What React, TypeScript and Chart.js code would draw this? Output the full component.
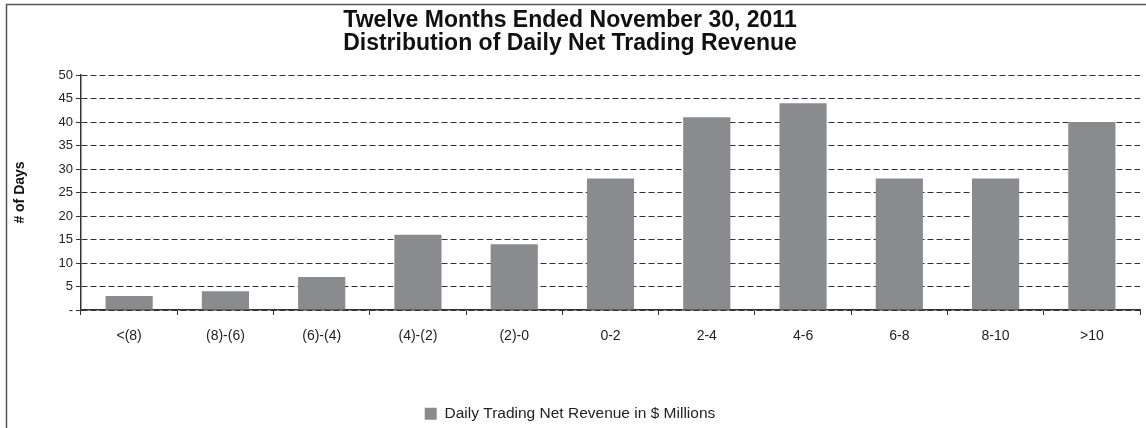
import React, { useEffect, useRef } from "react";
import { Chart, registerables } from "chart.js";

Chart.register(...registerables);

const categories = ["<(8)", "(8)-(6)", "(6)-(4)", "(4)-(2)", "(2)-0", "0-2", "2-4", "4-6", "6-8", "8-10", ">10"];
const days = [3, 4, 7, 16, 14, 28, 41, 44, 28, 28, 40];
const titleLines = ["Twelve Months Ended November 30, 2011", "Distribution of Daily Net Trading Revenue"];
const seriesLabel = "Daily Trading Net Revenue in $ Millions";
const yAxisTitle = "# of Days";

const FONT = "'Liberation Sans', Arial, Helvetica, sans-serif";

const frame = {
  id: "frame",
  beforeDraw(chart: any) {
    const ctx = chart.ctx;
    ctx.save();
    ctx.fillStyle = "#ffffff";
    ctx.fillRect(0, 0, chart.width, chart.height);
    ctx.strokeStyle = "#555555";
    ctx.lineWidth = 1.5;
    ctx.beginPath();
    ctx.moveTo(6.5, chart.height);
    ctx.lineTo(6.5, 4.5);
    ctx.lineTo(chart.width, 4.5);
    ctx.stroke();
    ctx.restore();
  },
};

export default function App() {
  const ref = useRef<HTMLCanvasElement>(null);
  useEffect(() => {
    if (!ref.current) return;
    const chart = new Chart(ref.current, {
      type: "bar",
      data: {
        labels: categories,
        datasets: [
          {
            label: seriesLabel,
            data: days,
            backgroundColor: "#8a8b8f",
            borderWidth: 0,
            barPercentage: 0.49,
            categoryPercentage: 1,
          },
        ],
      },
      options: {
        animation: false,
        responsive: false,
        maintainAspectRatio: false,
        layout: { padding: { left: 0, right: 6, top: 0, bottom: 0 } },
        plugins: {
          title: {
            display: true,
            text: titleLines,
            color: "#111111",
            font: { family: FONT, size: 23, weight: "bold", lineHeight: "23px" },
            padding: { top: 9, bottom: 20 },
          },
          legend: {
            display: true,
            position: "bottom",
            maxHeight: 28,
            labels: {
              color: "#222222",
              font: { family: FONT, size: 15.5 },
              boxWidth: 12,
              boxHeight: 12,
              padding: 6,
            },
          },
          tooltip: { enabled: false },
        },
        scales: {
          x: {
            grid: {
              display: true,
              drawOnChartArea: false,
              drawTicks: true,
              tickLength: 5,
              color: "#333333",
              offset: true,
            },
            border: { display: true, color: "#333333", width: 1.5 },
            ticks: { color: "#222222", font: { family: FONT, size: 14 }, padding: 13, maxRotation: 0, autoSkip: false },
            afterFit(scale: any) {
              scale.height = 90;
            },
          },
          y: {
            min: 0,
            max: 50,
            ticks: {
              stepSize: 5,
              color: "#222222",
              font: { family: FONT, size: 13 },
              padding: 3,
              callback: (v: any) => (Number(v) === 0 ? "-" : String(v)),
            },
            grid: { color: "#333333", lineWidth: 1, tickLength: 5, tickColor: "#333333" },
            border: { display: true, color: "#333333", width: 1.5, dash: [6, 3] },
            title: {
              display: true,
              text: yAxisTitle,
              color: "#111111",
              font: { family: FONT, size: 14, weight: "bold" },
              padding: { top: 12, bottom: 0 },
            },
            afterFit(scale: any) {
              scale.width = 81;
            },
          },
        },
      },
      plugins: [frame],
    });
    return () => chart.destroy();
  }, []);
  return (
    <div style={{ position: "absolute", left: 0, top: 0, width: 1146, height: 428 }}>
      <canvas ref={ref} width={1146} height={428} />
    </div>
  );
}
